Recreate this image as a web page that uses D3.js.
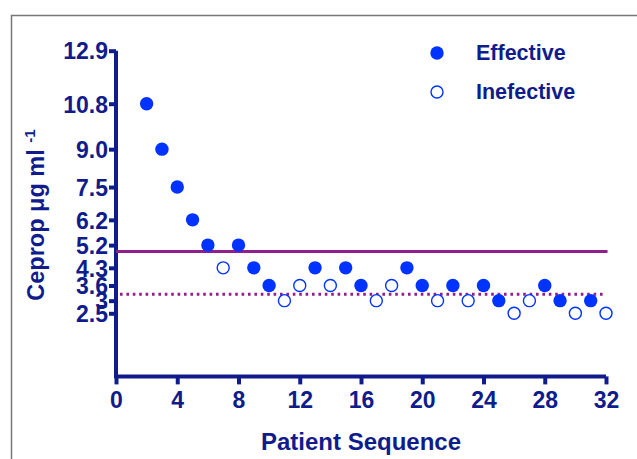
<!DOCTYPE html>
<html>
<head>
<meta charset="utf-8">
<script src="https://cdn.jsdelivr.net/npm/d3@7"></script>
<style>
  body { margin: 0; background: #fff; }
  text { font-family: "Liberation Sans", Arial, sans-serif; font-weight: bold; fill: #101c8c; }
</style>
</head>
<body>
<svg width="637" height="459"></svg>
<script>
// patient sequence, concentration, and whether it worked
const seq = [2, 3, 4, 5, 6, 7, 8, 9, 10, 11, 12, 13, 14, 15, 16, 17, 18, 19, 20, 21, 22, 23, 24, 25, 26, 27, 28, 29, 30, 31, 32]
const dose = [10.8, 9.0, 7.5, 6.2, 5.2, 4.3, 5.2, 4.3, 3.6, 3, 3.6, 4.3, 3.6, 4.3, 3.6, 3, 3.6, 4.3, 3.6, 3, 3.6, 3, 3.6, 3, 2.5, 3, 3.6, 3, 2.5, 3, 2.5]
const effective = [1, 1, 1, 1, 1, 0, 1, 1, 1, 0, 0, 1, 0, 1, 1, 0, 0, 1, 1, 0, 1, 0, 1, 1, 0, 0, 1, 1, 0, 1, 0]

const yTicks = [2.5, 3, 3.6, 4.3, 5.2, 6.2, 7.5, 9.0, 10.8, 12.9]
const yTickLabels = ["2.5", "3", "3.6", "4.3", "5.2", "6.2", "7.5", "9.0", "10.8", "12.9"]
const xTicks = [0, 4, 8, 12, 16, 20, 24, 28, 32]

const solidLine = 4.95
const dottedLine = 3.25

const navy = "#101c8c"
const blue = "#0033ff"
const purple = "#8e1f8c"

let svg = d3.select("svg")

// frame
svg.append("path")
  .attr("d", "M11.5,459 V15.5 H637")
  .attr("fill", "none")
  .attr("stroke", "#777")
  .attr("stroke-width", 1.5)

let x = d3.scaleLinear().domain([0, 32]).range([116, 606])
let y = d3.scaleLinear().domain([0, 12.9]).range([376.4, 50.7])

// y axis
let yAxis = svg.append("g")
  .attr("transform", "translate(" + x(0) + ",0)")
  .call(d3.axisLeft(y).tickValues(yTicks).tickSize(7).tickPadding(1)
    .tickFormat(function(d, i) { return yTickLabels[i] }))
yAxis.select(".domain")
  .attr("d", "M0," + (y(0) + 1.5) + "V" + y(12.9))
  .attr("stroke", navy).attr("stroke-width", 4)
yAxis.selectAll(".tick line").attr("stroke", navy).attr("stroke-width", 4)
yAxis.selectAll(".tick text")
  .style("font-size", "23px").style("font-family", "'Liberation Sans', Arial, sans-serif")
  .style("font-weight", "bold").attr("fill", navy)
  .attr("dy", "0.36em")

// x axis
let xAxis = svg.append("g")
  .attr("transform", "translate(0," + y(0) + ")")
  .call(d3.axisBottom(x).tickValues(xTicks).tickSize(8).tickPadding(7))
xAxis.select(".domain")
  .attr("d", "M" + (x(0) - 1.5) + ",0H" + x(32))
  .attr("stroke", navy).attr("stroke-width", 4)
xAxis.selectAll(".tick line").attr("stroke", navy).attr("stroke-width", 4)
xAxis.selectAll(".tick text")
  .style("font-size", "23px").style("font-family", "'Liberation Sans', Arial, sans-serif")
  .style("font-weight", "bold").attr("fill", navy)

// reference lines
svg.append("line")
  .attr("x1", x(0)).attr("x2", x(32.1))
  .attr("y1", y(solidLine)).attr("y2", y(solidLine))
  .attr("stroke", purple).attr("stroke-width", 3)

svg.append("line")
  .attr("x1", x(0) + 4).attr("x2", x(31.8))
  .attr("y1", y(dottedLine)).attr("y2", y(dottedLine))
  .attr("stroke", purple).attr("stroke-width", 3)
  .attr("stroke-dasharray", "2.6,3.8")

// points
let pts = seq.map(function(s, i) { return { s: s, v: dose[i], e: effective[i] } })

svg.selectAll(".pt")
  .data(pts)
  .enter()
  .append("circle")
  .attr("class", "pt")
  .attr("cx", function(d) { return x(d.s) })
  .attr("cy", function(d) { return y(d.v) })
  .attr("r", function(d) { return d.e ? 6.7 : 6 })
  .attr("fill", function(d) { return d.e ? blue : "#fff" })
  .attr("stroke", function(d) { return d.e ? "none" : blue })
  .attr("stroke-width", 1.4)

// legend
svg.append("circle").attr("cx", 437).attr("cy", 53).attr("r", 6.7).attr("fill", blue)
svg.append("text").attr("x", 476).attr("y", 60).style("font-size", "21.5px").text("Effective")
svg.append("circle").attr("cx", 437).attr("cy", 92).attr("r", 6).attr("fill", "#fff")
  .attr("stroke", blue).attr("stroke-width", 1.4)
svg.append("text").attr("x", 476).attr("y", 99).style("font-size", "21.5px").text("Inefective")

// axis titles
svg.append("text")
  .attr("x", (x(0) + x(32)) / 2)
  .attr("y", 450)
  .attr("text-anchor", "middle")
  .style("font-size", "24px")
  .text("Patient Sequence")

let yt = svg.append("text")
  .attr("transform", "translate(44,215) rotate(-90)")
  .attr("text-anchor", "middle")
  .style("font-size", "23.5px")
yt.append("tspan").text("Ceprop μg ml ")
yt.append("tspan").attr("dy", "-0.6em").style("font-size", "15px").text("-1")
</script>
</body>
</html>
